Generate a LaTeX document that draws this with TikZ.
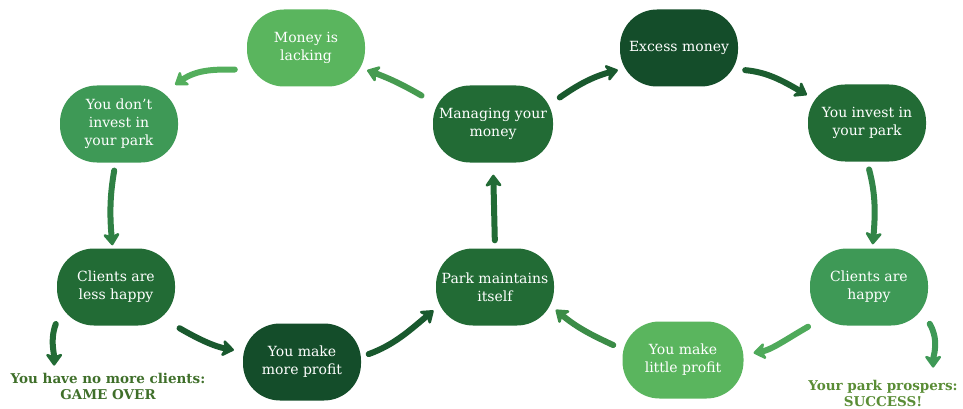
\documentclass[tikz,border=0pt]{standalone}
\usepackage{fontspec}
\setmainfont{DejaVu Serif}
\usetikzlibrary{arrows.meta}
\definecolor{gLight}{HTML}{5AB55E}
\definecolor{gMed}{HTML}{3E9956}
\definecolor{gDark}{HTML}{226B35}
\definecolor{gDarkest}{HTML}{144D2A}
\definecolor{gTextA}{HTML}{3F6F2A}
\definecolor{gTextB}{HTML}{5A8D36}
\begin{document}
\begin{tikzpicture}[x=1pt,y=1pt,
  box/.style={rounded corners=37pt, minimum width=118pt, minimum height=77pt,
    text=white, align=center, inner sep=1pt,
    font=\fontsize{14}{18}\selectfont},
  arr/.style={line width=6pt, line cap=round,
    -{Stealth[length=14pt,width=20pt,inset=4pt,round]}},
  lab/.style={align=center, inner sep=0pt,
    font=\bfseries\fontsize{13.5}{16}\selectfont}]
\useasboundingbox (0,0) rectangle (963,-409);

% nodes
\node[box, fill=gLight]    (money)  at (306,-48)  {Money is\\lacking};
\node[box, fill=gMed]      (dont)   at (119,-124) {You don't\\invest in\\your park};
\node[box, fill=gDark]     (less)   at (116,-287) {Clients are\\less happy};
\node[box, fill=gDarkest]  (more)   at (302,-362) {You make\\more profit};
\node[box, fill=gDark]     (maint)  at (495,-287) {Park maintains\\itself};
\node[box, fill=gDark, minimum width=120pt] (mgr) at (493,-124) {Managing your\\money};
\node[box, fill=gDarkest]  (excess) at (679,-48)  {Excess money};
\node[box, fill=gDark]     (invest) at (867,-123) {You invest in\\your park};
\node[box, fill=gMed]      (happy)  at (869,-287) {Clients are\\happy};
\node[box, fill=gLight, minimum width=121pt] (little) at (683,-360) {You make\\little profit};

\node[lab, text=gTextA] (over) at (108,-386) {You have no more clients:\\GAME OVER};
\node[lab, text=gTextB] (succ) at (883,-393) {Your park prospers:\\SUCCESS!};

% connectors
\draw[arr, gDark!35!gLight, shorten <=13pt, shorten >=2pt]
  (mgr.160) to[out=150,in=-20] (money.-20);
\draw[arr, gLight!75!gMed, shorten <=12pt, shorten >=1pt]
  (money.200) to[out=180,in=35] (dont.35);
\draw[arr, gMed!45!gDark, shorten <=8pt, shorten >=3pt]
  (dont.-95) to[out=-100,in=95] (less.95);
\draw[arr, gDark!40!gDarkest, shorten <=5pt, shorten >=9pt]
  (less.south east) to[out=-30,in=170] (more.170);
\draw[arr, gDark, shorten <=3pt, shorten >=7pt]
  (less.210) to[out=-110,in=90] (over.166);
\draw[arr, gDarkest!60!gDark, shorten <=8pt, shorten >=3pt]
  (more.5) to[out=20,in=-140] (maint.200);
\draw[arr, gDark, shorten <=8pt, shorten >=12pt]
  (maint.north) -- (mgr.south);
\draw[arr, gDark!40!gDarkest, shorten <=8pt, shorten >=2pt]
  (mgr.20) to[out=35,in=-165] (excess.200);
\draw[arr, gDarkest!45!gDark, shorten <=7pt, shorten >=1pt]
  (excess.-20) to[out=-5,in=150] (invest.155);
\draw[arr, gDark!45!gMed, shorten <=8pt, shorten >=4pt]
  (invest.south) to[out=-75,in=85] (happy.85);
\draw[arr, gMed!40!gLight, shorten <=2pt, shorten >=10pt]
  (happy.south west) to[out=210,in=10] (little.5);
\draw[arr, gMed, shorten <=3pt, shorten >=12pt]
  (happy.-30) to[out=-60,in=90] (succ.15);
\draw[arr, gLight!45!gDark, shorten <=10pt, shorten >=2pt]
  (little.170) to[out=155,in=-40] (maint.-20);
\end{tikzpicture}
\end{document}
